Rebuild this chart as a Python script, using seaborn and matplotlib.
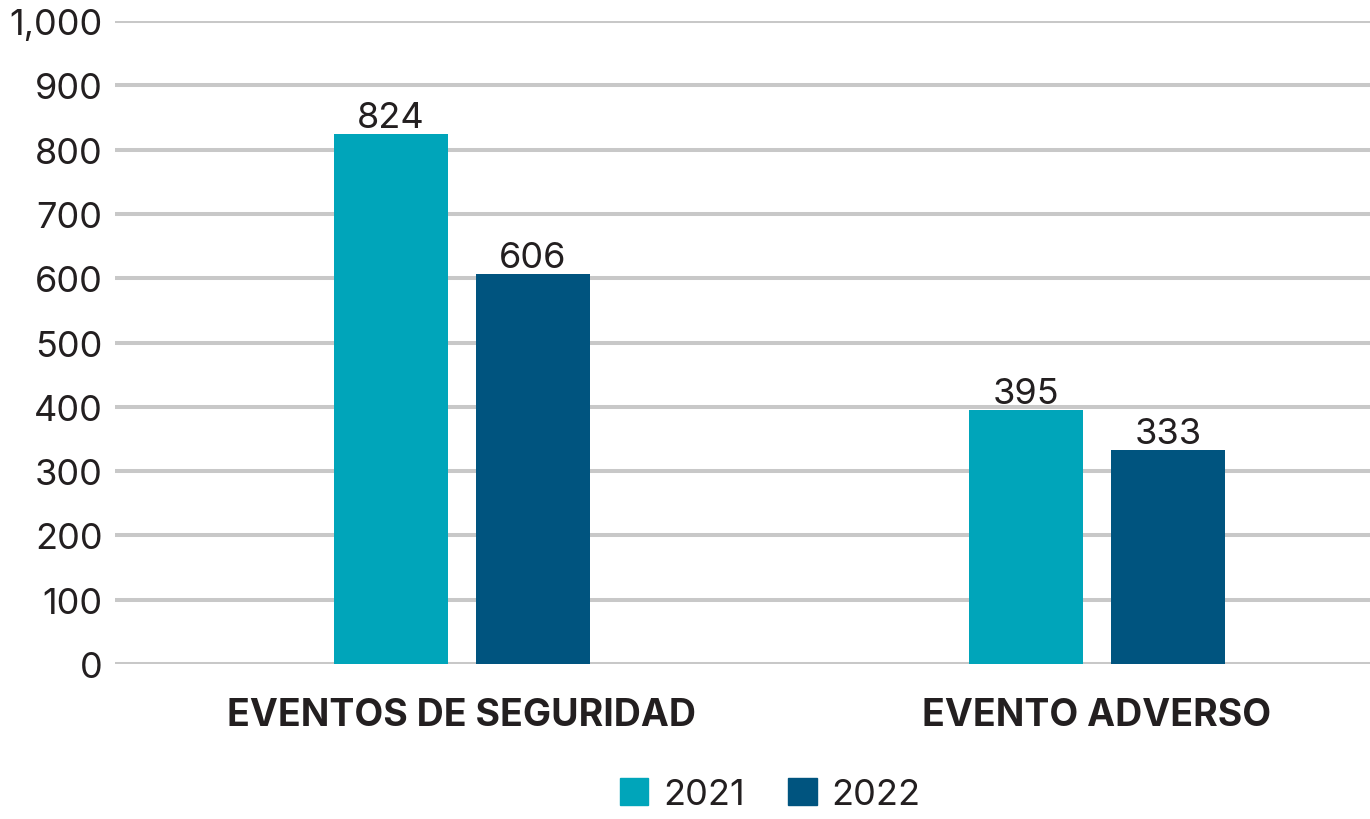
import matplotlib
matplotlib.use('Agg')
import matplotlib.pyplot as plt
import seaborn as sns
import pandas as pd
from matplotlib.ticker import FuncFormatter

categories = ['EVENTOS DE SEGURIDAD', 'EVENTO ADVERSO']
years = ['2021', '2022']
values_2021 = [824, 395]
values_2022 = [606, 333]
colors = {'2021': '#00A5BA', '2022': '#00547F'}

df = pd.DataFrame({
    'Categoria': categories * 2,
    'Año': ['2021'] * 2 + ['2022'] * 2,
    'Valor': values_2021 + values_2022,
})

sns.set_style("white")
plt.rcParams['font.family'] = ['Inter', 'DejaVu Sans']

fig = plt.figure(figsize=(13.7, 8.2), dpi=100)
ax = fig.add_axes([0.084, 0.189, 0.916, 0.784])

sns.barplot(data=df, x='Categoria', y='Valor', hue='Año', hue_order=years,
            palette=colors, width=0.448, gap=0.196, saturation=1,
            linewidth=0, ax=ax, zorder=3, legend=True)

ax.set_ylim(0, 1000)
ax.set_xlim(-0.546, 1.43)
ax.set_yticks(range(0, 1001, 100))
ax.yaxis.set_major_formatter(FuncFormatter(lambda v, p: f'{int(v):,}'))
ax.grid(axis='y', color='#C8C8C8', linewidth=2.9, zorder=0)
ax.set_axisbelow(True)
for s in ax.spines.values():
    s.set_visible(False)
ax.tick_params(axis='y', length=0, pad=9, labelsize=26, labelcolor='#231F20')
ax.tick_params(axis='x', length=0, pad=24, labelsize=27, labelcolor='#231F20')
for t in ax.get_xticklabels():
    t.set_fontweight('bold')
ax.set_xlabel('')
ax.set_ylabel('')

for c in ax.containers:
    ax.bar_label(c, fmt='%d', padding=0, fontsize=26, color='#231F20')

ax.get_legend().remove()
handles = [plt.Rectangle((0, 0), 1, 1, color=colors[y]) for y in years]
fig.legend(handles, years, loc='lower center', bbox_to_anchor=(0.562, -0.03),
           ncol=2, frameon=False, fontsize=26, handlelength=0.8, handleheight=0.8,
           handletextpad=0.4, columnspacing=1.2, labelcolor='#231F20')

fig.savefig('out.png', dpi=100)
